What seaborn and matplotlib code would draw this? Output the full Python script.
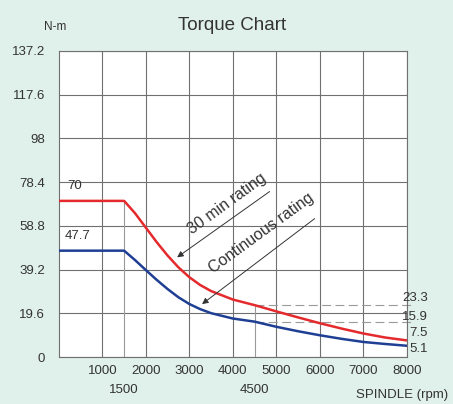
import matplotlib
matplotlib.use("Agg")
import matplotlib.pyplot as plt
import seaborn as sns
import pandas as pd

# datos
rpm = [0, 1500, 1750, 2000, 2250, 2500, 2750, 3000, 3250, 3500, 4000, 4500,
       5000, 5500, 6000, 6500, 7000, 7500, 8000]
torque_30min = [70, 70, 64.5, 58, 51.5, 45.5, 40.2, 35.8, 32.3, 29.6, 25.8, 23.3,
                20.5, 17.8, 15.2, 12.8, 10.6, 8.8, 7.5]
torque_cont = [47.7, 47.7, 43.5, 39, 34.6, 30.5, 26.8, 23.8, 21.5, 19.7, 17.3, 15.9,
               13.6, 11.6, 9.8, 8.2, 6.8, 5.9, 5.1]

y_ticks = [0, 19.6, 39.2, 58.8, 78.4, 98, 117.6, 137.2]
x_ticks = [1000, 2000, 3000, 4000, 5000, 6000, 7000, 8000]
x_ticks_extra = [1500, 4500]
end_labels = ["23.3", "15.9", "7.5", "5.1"]

df = pd.DataFrame({"rpm": rpm * 2,
                   "torque": torque_30min + torque_cont,
                   "rating": ["30 min"] * len(rpm) + ["continuous"] * len(rpm)})

BG = "#e0f0ea"
GRID = "#707070"

sns.set_theme(style="white")
plt.rcParams["font.family"] = ["Liberation Sans", "DejaVu Sans"]

fig = plt.figure(figsize=(4.53, 4.04), dpi=100, facecolor=BG)
ax = fig.add_axes([0.130, 0.116, 0.768, 0.758])
ax.set_facecolor("white")

# lineas guia (1500 y 4500)
ax.plot([1500, 1500], [0, 70], color="#9a9a9a", lw=0.8, zorder=1)
ax.plot([4500, 4500], [0, 23.3], color="#9a9a9a", lw=0.8, zorder=1)
ax.plot([4500, 8100], [23.3, 23.3], color="#9a9a9a", lw=0.8, ls=(0, (8, 4)), clip_on=False, zorder=1)
ax.plot([4500, 8100], [15.9, 15.9], color="#9a9a9a", lw=0.8, ls=(0, (8, 4)), clip_on=False, zorder=1)

sns.lineplot(data=df, x="rpm", y="torque", hue="rating",
             palette={"30 min": "#e42a2c", "continuous": "#1f3f94"},
             lw=1.8, legend=False, ax=ax, zorder=3)

ax.set_xlim(0, 8000)
ax.set_ylim(0, 137.2)
ax.set_xticks(x_ticks)
ax.set_xticklabels([str(v) for v in x_ticks])
ax.set_xticks(x_ticks_extra, minor=True)
ax.set_xticklabels([str(v) for v in x_ticks_extra], minor=True)
ax.set_yticks(y_ticks)
ax.set_yticklabels(["0", "19.6", "39.2", "58.8", "78.4", "98", "117.6", "137.2"])
ax.tick_params(axis="x", which="major", length=0, pad=6, labelsize=9.5, colors="#333333")
ax.tick_params(axis="x", which="minor", length=0, pad=19, labelsize=9.5, colors="#333333")
ax.tick_params(axis="y", length=0, pad=10, labelsize=9.5, colors="#333333")
ax.grid(True, which="major", color=GRID, lw=0.8)
ax.set_axisbelow(True)
for s in ax.spines.values():
    s.set_color(GRID)
    s.set_linewidth(0.8)
ax.set_xlabel("")
ax.set_ylabel("")

# textos
ax.text(368, 76.7, "70", ha="center", va="center", fontsize=9.5, color="#333333")
ax.text(437, 54.3, "47.7", ha="center", va="center", fontsize=9.5, color="#333333")
for lab, yy in zip(end_labels, [26.5, 18.1, 10.8, 3.6]):
    ax.text(8483, yy, lab, ha="right", va="center", fontsize=9.5, color="#333333", clip_on=False)

ax.annotate("", xy=(2667, 44), xytext=(4897, 74.9),
            arrowprops=dict(arrowstyle="-|>", color="#333333", lw=0.7, mutation_scale=9))
ax.annotate("", xy=(3241, 23), xytext=(5931, 62.8),
            arrowprops=dict(arrowstyle="-|>", color="#333333", lw=0.7, mutation_scale=9))
ax.text(3862, 68.6, "30 min rating", rotation=36, ha="center", va="center",
        fontsize=11.5, color="#333333", rotation_mode="anchor")
ax.text(4667, 55.6, "Continuous rating", rotation=36, ha="center", va="center",
        fontsize=11.5, color="#333333", rotation_mode="anchor")

fig.text(0.512, 0.937, "Torque Chart", ha="center", va="center", fontsize=13.5, color="#333333")
fig.text(0.121, 0.933, "N-m", ha="center", va="center", fontsize=8.5, color="#333333")
fig.text(0.989, 0.022, "SPINDLE (rpm)", ha="right", va="center", fontsize=9.5, color="#333333")

fig.savefig("out.png", dpi=100, facecolor=BG)
